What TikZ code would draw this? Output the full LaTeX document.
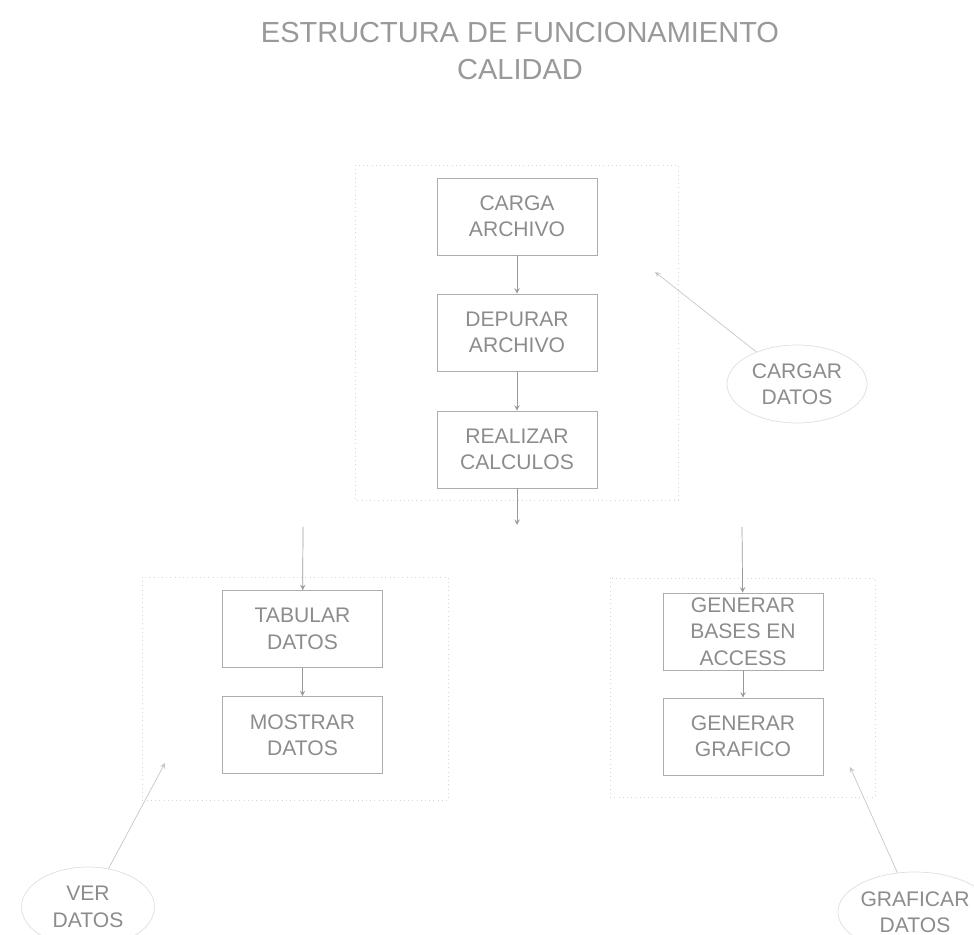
\documentclass[tikz,border=0pt]{standalone}
\usepackage{fontspec}
\setmainfont{Liberation Sans}
\usetikzlibrary{shapes.geometric}
\newcommand{\boxfont}{\fontsize{12}{15}\selectfont}
\newcommand{\titlefont}{\fontsize{16.5}{21}\selectfont}

\begin{document}
\begin{tikzpicture}[x=0.02cm,y=-0.02cm,>=stealth,
	box/.style={draw=black!32,text=black!45,font=\boxfont,align=center,
		minimum width=3.2cm,minimum height=1.54cm,inner sep=0pt},
	actor/.style={ellipse,draw=black!13,text=black!45,font=\boxfont,align=center,inner sep=0pt},
	frame/.style={draw=black!17,dotted},
	flow/.style={->,draw=black!40},
	hint/.style={->,draw=black!22}]
	\useasboundingbox (0,0) rectangle (974,935);
	
	\node[font=\titlefont,text=black!40,align=center] (title) at (520,51)
		{ESTRUCTURA DE FUNCIONAMIENTO\\CALIDAD};
	
	% grupos
	\draw[frame] (355,165) rectangle (678,500);
	\draw[frame] (142,577) rectangle (448,800);
	\draw[frame] (610,578) rectangle (875,797);
	
	% procesos
	\node[box] (carga) at (517,216.5) {CARGA\\ARCHIVO};
	\node[box] (depurar) at (517,332.5) {DEPURAR\\ARCHIVO};
	\node[box] (calculos) at (517,449.5) {REALIZAR\\CALCULOS};
	\node[box] (tabular) at (302.5,629) {TABULAR\\DATOS};
	\node[box] (mostrar) at (302.5,735) {MOSTRAR\\DATOS};
	\node[box] (bases) at (743,631.5) {GENERAR\\BASES EN\\ACCESS};
	\node[box] (grafico) at (743,736.5) {GENERAR\\GRAFICO};
	
	% usuarios
	\node[actor,minimum width=2.8cm,minimum height=1.56cm] (cargar) at (797,384) {CARGAR\\DATOS};
	\node[actor,minimum width=2.66cm,minimum height=1.6cm] (ver) at (88,907) {VER\\DATOS};
	\node[actor,minimum width=2.92cm,minimum height=1.6cm] (graficar) at (915,912) {GRAFICAR\\DATOS};
	
	\coordinate (calcEnd) at (517,525);
	\coordinate (splitL) at (303,527);
	\coordinate (splitR) at (742,527);
	\coordinate (cargarTip) at (655,272);
	\coordinate (verTip) at (165,763);
	\coordinate (grafTip) at (850,767);
	
	\draw[flow] (carga) -- (depurar);
	\draw[flow] (depurar) -- (calculos);
	\draw[flow] (calculos) -- (calcEnd);
	\draw[flow] (splitL) -- (tabular);
	\draw[flow] (tabular) -- (mostrar);
	\draw[flow] (splitR) -- (bases);
	\draw[flow] (bases) -- (grafico);
	
	\draw[hint] (cargar) -- (cargarTip);
	\draw[hint] (ver) -- (verTip);
	\draw[hint] (graficar) -- (grafTip);
\end{tikzpicture}
\end{document}
